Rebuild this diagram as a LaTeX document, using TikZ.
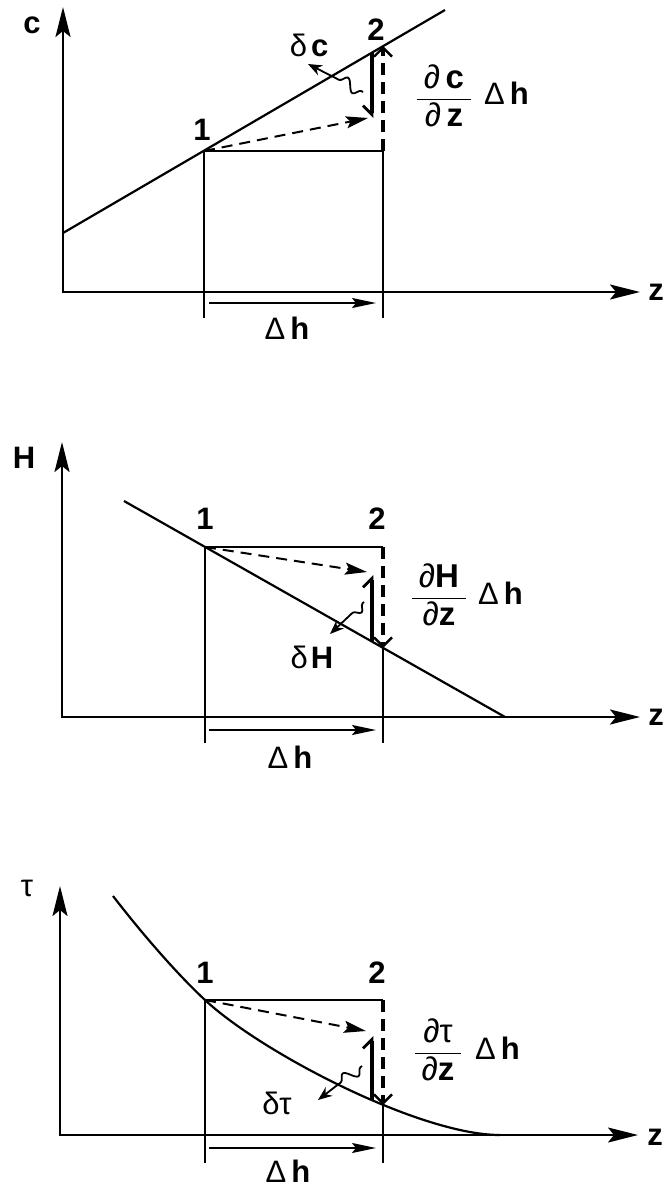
\documentclass[tikz,border=0pt]{standalone}
\usepackage{amsmath}
\usepackage{fontspec}
\setmainfont{Liberation Sans}
\usetikzlibrary{arrows.meta,decorations.pathmorphing}

\tikzset{
  axis/.style={line width=2.4pt,{Stealth[length=30pt,width=15pt,inset=6pt]}-{Stealth[length=30pt,width=15pt,inset=6pt]}},
  graph/.style={line width=2.2pt},
  guide/.style={line width=1.6pt},
  shift arrow/.style={line width=2pt,dash pattern=on 11pt off 7pt,-{Stealth[length=22pt,width=12pt,inset=4pt]}},
  delta up/.style={line width=4.5pt,-{Straight Barb[left,length=9pt,width=18pt,line width=2.8pt]}},
  delta down/.style={line width=4.5pt,-{Straight Barb[right,length=9pt,width=18pt,line width=2.8pt]}},
  grad line/.style={line width=4pt,dash pattern=on 12pt off 7pt,-{Straight Barb[length=9pt,width=18pt,line width=2.4pt]}},
  dh arrow/.style={line width=1.8pt,-{Stealth[length=24pt,width=10pt,inset=4pt]}},
  squig/.style={line width=1.8pt,decorate,decoration={snake,amplitude=6pt,segment length=22pt,pre length=2pt,post length=24pt},-{Stealth[length=14pt,width=11pt]}},
  lbl/.style={font=\fontsize{31}{35}\selectfont\bfseries,inner sep=0pt},
  glbl/.style={font=\fontsize{31}{35}\selectfont,inner sep=0pt},
  frac/.style={font=\fontsize{33}{38}\selectfont,inner sep=0pt},
}
\newcommand{\dhtext}{Δ\hspace{5pt}\textbf{h}}

\begin{document}
\begin{tikzpicture}[x=1pt,y=-1pt]
\useasboundingbox (0,0) rectangle (669,1188);

% panel c
\coordinate (O1) at (63,292);
\coordinate (ytop1) at (63,7);
\coordinate (xend1) at (640,292);
\coordinate (A1) at (63,233);
\coordinate (B1) at (445,10);
\coordinate (p11) at (204,151);
\coordinate (p12) at (383,46);
\coordinate (q1) at (383,151);
\coordinate (f1) at (204,318);
\coordinate (g1) at (383,318);
\coordinate (d1) at (368,118);
\coordinate (e1) at (372,53);
\coordinate (k1) at (372,118);
\coordinate (s1) at (363,92);
\coordinate (t1) at (308,64);
\coordinate (h1a) at (209,303);
\coordinate (h1b) at (376,303);
\draw[axis] (ytop1) -- (O1) -- (xend1);
\draw[graph] (A1) -- (B1);
\draw[guide] (f1) -- (p11) -- (q1) -- (g1);
\draw[grad line] (q1) -- (p12);
\draw[shift arrow] (p11) -- (d1);
\draw[delta down] (e1) -- (k1);
\draw[squig] (s1) -- (t1);
\draw[dh arrow] (h1a) -- (h1b);
\node[lbl] (lc) at (32,25) {c};
\node[lbl] (lz1) at (656,292) {z};
\node[lbl] (n11) at (202,130) {1};
\node[lbl] (n12) at (376,30) {2};
\node[glbl] (dc) at (309,45) {δ\hspace{4pt}\textbf{c}};
\node[frac] (fr1) at (444,96) {$\dfrac{\;\text{∂\,\textbf{c}}\;}{\;\text{∂\,\textbf{z}}\;}$};
\node[glbl,anchor=west] (dh1) at (484,93) {\dhtext};
\node[glbl] (dhb1) at (287,328) {\dhtext};

% panel H
\coordinate (O2) at (62,717);
\coordinate (ytop2) at (62,442);
\coordinate (xend2) at (640,717);
\coordinate (A2) at (124,501);
\coordinate (B2) at (505,717);
\coordinate (p21) at (205,547);
\coordinate (p22) at (383,648);
\coordinate (q2) at (383,547);
\coordinate (f2) at (205,743);
\coordinate (g2) at (383,743);
\coordinate (d2) at (367,572);
\coordinate (e2) at (372,641);
\coordinate (k2) at (372,575);
\coordinate (s2) at (364,602);
\coordinate (t2) at (330,634);
\coordinate (h2a) at (209,730);
\coordinate (h2b) at (376,730);
\draw[axis] (ytop2) -- (O2) -- (xend2);
\draw[graph] (A2) -- (B2);
\draw[guide] (f2) -- (p21) -- (q2);
\draw[guide] (p22) -- (g2);
\draw[grad line] (q2) -- (p22);
\draw[shift arrow] (p21) -- (d2);
\draw[delta up] (e2) -- (k2);
\draw[squig] (s2) -- (t2);
\draw[dh arrow] (h2a) -- (h2b);
\node[lbl] (lH) at (24,458) {H};
\node[lbl] (lz2) at (656,717) {z};
\node[lbl] (n21) at (205,519) {1};
\node[lbl] (n22) at (377,519) {2};
\node[glbl] (dH) at (312,657) {δ\hspace{3pt}\textbf{H}};
\node[frac] (fr2) at (439,595) {$\dfrac{\;\text{∂\textbf{H}}\;}{\;\text{∂\textbf{z}}\;}$};
\node[glbl,anchor=west] (dh2) at (478,593) {\dhtext};
\node[glbl] (dhb2) at (290,757) {\dhtext};

% panel tau
\coordinate (O3) at (60,1135);
\coordinate (ytop3) at (60,886);
\coordinate (xend3) at (638,1135);
\coordinate (A3) at (113,896);
\coordinate (B3) at (500,1135);
\coordinate (p31) at (205,1000);
\coordinate (p32) at (383,1105);
\coordinate (q3) at (383,1000);
\coordinate (f3) at (205,1163);
\coordinate (g3) at (383,1163);
\coordinate (d3) at (366,1031);
\coordinate (e3) at (372,1100);
\coordinate (k3) at (372,1036);
\coordinate (s3) at (362,1066);
\coordinate (t3) at (318,1100);
\coordinate (h3a) at (209,1148);
\coordinate (h3b) at (376,1148);
\draw[axis] (ytop3) -- (O3) -- (xend3);
\draw[graph] (A3) .. controls (140,931) and (175,972) .. (p31)
  .. controls (262,1053) and (420,1135) .. (B3);
\draw[guide] (f3) -- (p31) -- (q3);
\draw[guide] (p32) -- (g3);
\draw[grad line] (q3) -- (p32);
\draw[shift arrow] (p31) -- (d3);
\draw[delta up] (e3) -- (k3);
\draw[squig] (s3) -- (t3);
\draw[dh arrow] (h3a) -- (h3b);
\node[glbl] (ltau) at (27,888) {τ};
\node[lbl] (lz3) at (655,1137) {z};
\node[lbl] (n31) at (205,973) {1};
\node[lbl] (n32) at (377,973) {2};
\node[glbl] (dtau) at (277,1103) {δτ};
\node[frac] (fr3) at (438,1050) {$\dfrac{\;\text{∂τ}\;}{\;\text{∂\textbf{z}}\;}$};
\node[glbl,anchor=west] (dh3) at (475,1048) {\dhtext};
\node[glbl] (dhb3) at (288,1171) {\dhtext};
\end{tikzpicture}
\end{document}
